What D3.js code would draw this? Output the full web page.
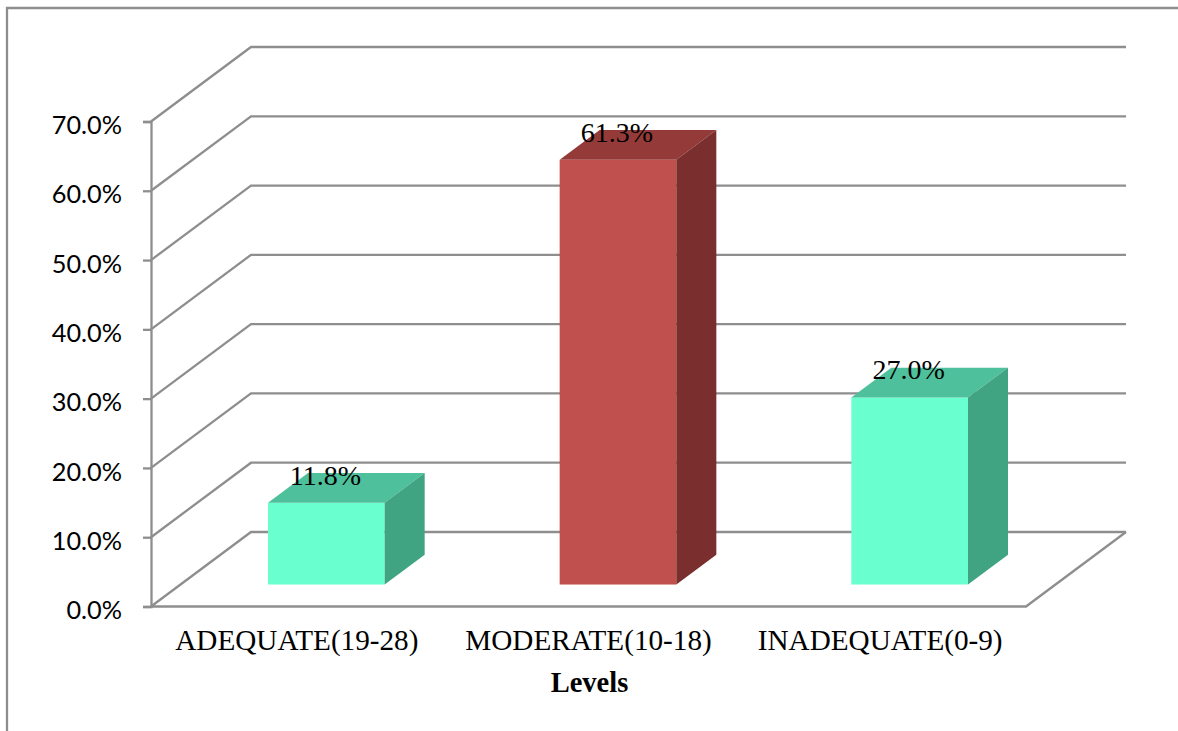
<!DOCTYPE html>
<html>
<head>
<meta charset="utf-8">
<style>
html, body { margin: 0; padding: 0; background: #fff; overflow: hidden; }
.axis text { fill: #000; }
</style>
<script src="https://cdn.jsdelivr.net/npm/d3@7"></script>
</head>
<body>
<script>
const categories = ['ADEQUATE(19-28)', 'MODERATE(10-18)', 'INADEQUATE(0-9)'];
const percentages = [11.8, 61.3, 27.0];
const yTicks = [0, 10, 20, 30, 40, 50, 60, 70];
const xTitle = 'Levels';

const width = 1178;
const height = 731;
const lineColor = '#8e8e8e';
const lineWidth = 2.3;

// front face colour, top, side
const green = ['#69ffcf', '#4ec09b', '#40a482'];
const red = ['#c0504d', '#943b39', '#7a2f2e'];
const barColors = [green, red, green];

// how far the back wall sits from the front of the floor
const depthX = 100;
const depthY = -74.5;
const barStart = 0.295;
const barDepth = 0.4;

const svg = d3.select('body').append('svg').
    attr('width', width).
    attr('height', height).
    style('display', 'block');

const xScale = d3.scaleBand().
    domain(categories).
    range([151, 1026]).
    paddingInner(0.6).
    paddingOuter(0.3);

// same range without padding, used to centre the category labels
const xLabel = d3.scaleBand().
    domain(categories).
    range([151, 1026]);

const yScale = d3.scaleLinear().
    domain([0, 70]).
    range([606.5, 121.5]);

const line = d3.line();

// outer frame, it only shows on the left and top
svg.append('path').
    attr('d', line([[7, height], [7, 8], [width, 8]])).
    attr('fill', 'none').
    attr('stroke', lineColor).
    attr('stroke-width', lineWidth);

const x0 = xScale.range()[0];
const x1 = xScale.range()[1];

// gridlines: up the side wall, then along the back wall
svg.append('g').selectAll('path').
    data(yTicks).
    join('path').
    attr('d', d => line([
        [x0, yScale(d)],
        [x0 + depthX, yScale(d) + depthY],
        [x1 + depthX, yScale(d) + depthY]
    ])).
    attr('fill', 'none').
    attr('stroke', lineColor).
    attr('stroke-width', lineWidth);

// front and right edge of the floor
svg.append('path').
    attr('d', line([
        [x0, yScale(0)],
        [x1, yScale(0)],
        [x1 + depthX, yScale(0) + depthY]
    ])).
    attr('fill', 'none').
    attr('stroke', lineColor).
    attr('stroke-width', lineWidth);

const yAxis = d3.axisLeft(yScale).
    tickValues(yTicks).
    tickSize(8).
    tickPadding(21).
    tickFormat(d => d.toFixed(1) + '%');

const yG = svg.append('g').
    attr('class', 'axis y').
    attr('transform', `translate(${x0}, 0)`).
    call(yAxis);

yG.selectAll('path, line').attr('stroke', lineColor).attr('stroke-width', lineWidth);
yG.selectAll('text').
    attr('font-family', 'Lato, Carlito, sans-serif').
    attr('font-size', 25.3).
    attr('dy', '0.48em');

const bars = svg.append('g').selectAll('g').
    data(categories.map((c, i) => ({ c, v: percentages[i], colors: barColors[i] }))).
    join('g');

const offX = depthX * barStart;
const offY = depthY * barStart;
const dx = depthX * barDepth;
const dy = depthY * barDepth;
const bw = xScale.bandwidth();

// front face
bars.append('rect').
    attr('x', d => xScale(d.c) + offX).
    attr('y', d => yScale(d.v) + offY).
    attr('width', bw).
    attr('height', d => yScale(0) - yScale(d.v)).
    attr('fill', d => d.colors[0]);

// top
bars.append('path').
    attr('d', d => {
        const l = xScale(d.c) + offX;
        const t = yScale(d.v) + offY;
        return line([[l, t], [l + dx, t + dy], [l + bw + dx, t + dy], [l + bw, t]]) + 'Z';
    }).
    attr('fill', d => d.colors[1]);

// side
bars.append('path').
    attr('d', d => {
        const r = xScale(d.c) + offX + bw;
        const t = yScale(d.v) + offY;
        const b = yScale(0) + offY;
        return line([[r, t], [r + dx, t + dy], [r + dx, b + dy], [r, b]]) + 'Z';
    }).
    attr('fill', d => d.colors[2]);

// value labels sit over the back edge of the top face
bars.append('text').
    attr('x', d => xScale(d.c) + offX + bw / 2 - 1).
    attr('y', d => yScale(d.v) + offY - 18).
    attr('text-anchor', 'middle').
    attr('font-family', '"Liberation Serif", serif').
    attr('font-size', 28).
    attr('fill', '#000').
    text(d => d.v.toFixed(1) + '%');

const xAxis = d3.axisBottom(xLabel).
    tickSize(0).
    tickPadding(23);

const xG = svg.append('g').
    attr('class', 'axis x').
    attr('transform', `translate(0, ${yScale(0)})`).
    call(xAxis);

xG.select('.domain').remove();
xG.selectAll('text').
    attr('font-family', '"Liberation Serif", serif').
    attr('font-size', 29.2);

svg.append('text').
    attr('x', 589.5).
    attr('y', 692).
    attr('text-anchor', 'middle').
    attr('font-family', '"Liberation Serif", serif').
    attr('font-weight', 'bold').
    attr('font-size', 28.5).
    attr('fill', '#000').
    text(xTitle);
</script>
</body>
</html>
